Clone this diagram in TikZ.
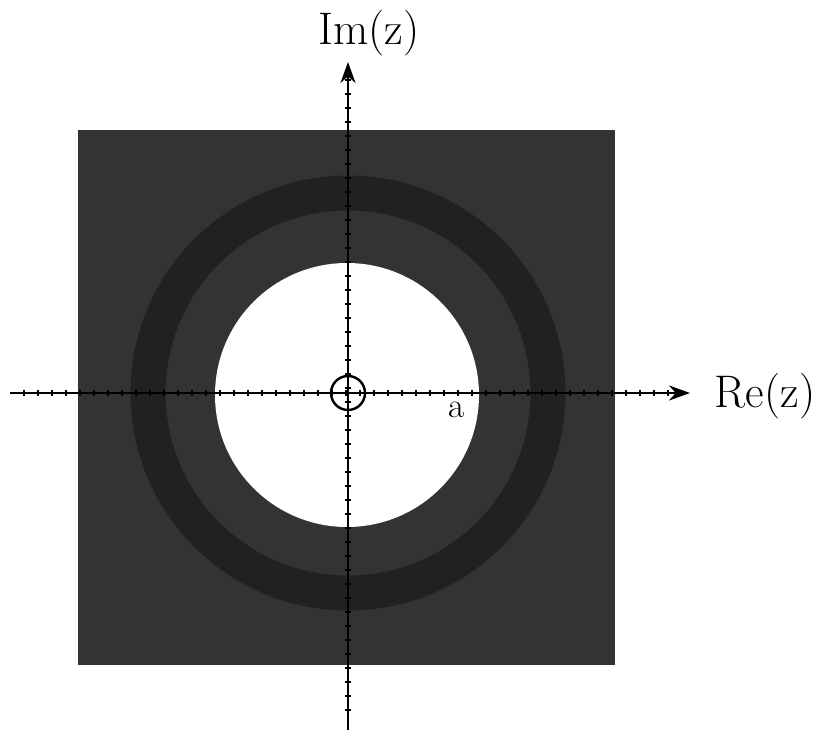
\documentclass[tikz,border=0pt]{standalone}
\usetikzlibrary{arrows.meta, positioning}

\begin{document}
\begin{tikzpicture}[
    x=0.02cm, y=-0.02cm,
    axis/.style={-{Stealth[length=0.42cm, width=0.3cm]}, line width=1.6pt, black},
    tick/.style={line width=0.6pt, black},
    lbl/.style={font=\fontsize{26}{30}\selectfont, inner sep=0pt}
]
\useasboundingbox (0,0) rectangle (822,730);
\coordinate (o) at (348,393);
\coordinate (xl) at (10,393);
\coordinate (xr) at (690,393);
\coordinate (yb) at (348,730);
\coordinate (yt) at (348,62);

% region of convergence
\fill[black!80] (78,130) rectangle (615,665);
\draw[black!87, line width=0.7cm] (o) circle[radius=200];
\fill[white] (347,395) circle[radius=132];

% ticks
\foreach \t in {24,38,...,670}
  \draw[tick] (\t,390) -- (\t,396);
\foreach \t in {80,94,...,720}
  \draw[tick] (345,\t) -- (351,\t);

% axes
\draw[axis] (xl) -- (xr);
\draw[axis] (yb) -- (yt);
\draw[line width=1.4pt] (o) circle[radius=17];

\node[lbl] (re) at (765,396) {Re(z)};
\node[lbl] (im) at (369,33)  {Im(z)};
\node[font=\fontsize{20}{24}\selectfont, inner sep=0pt] (a) at (457,410) {a};
\end{tikzpicture}
\end{document}
